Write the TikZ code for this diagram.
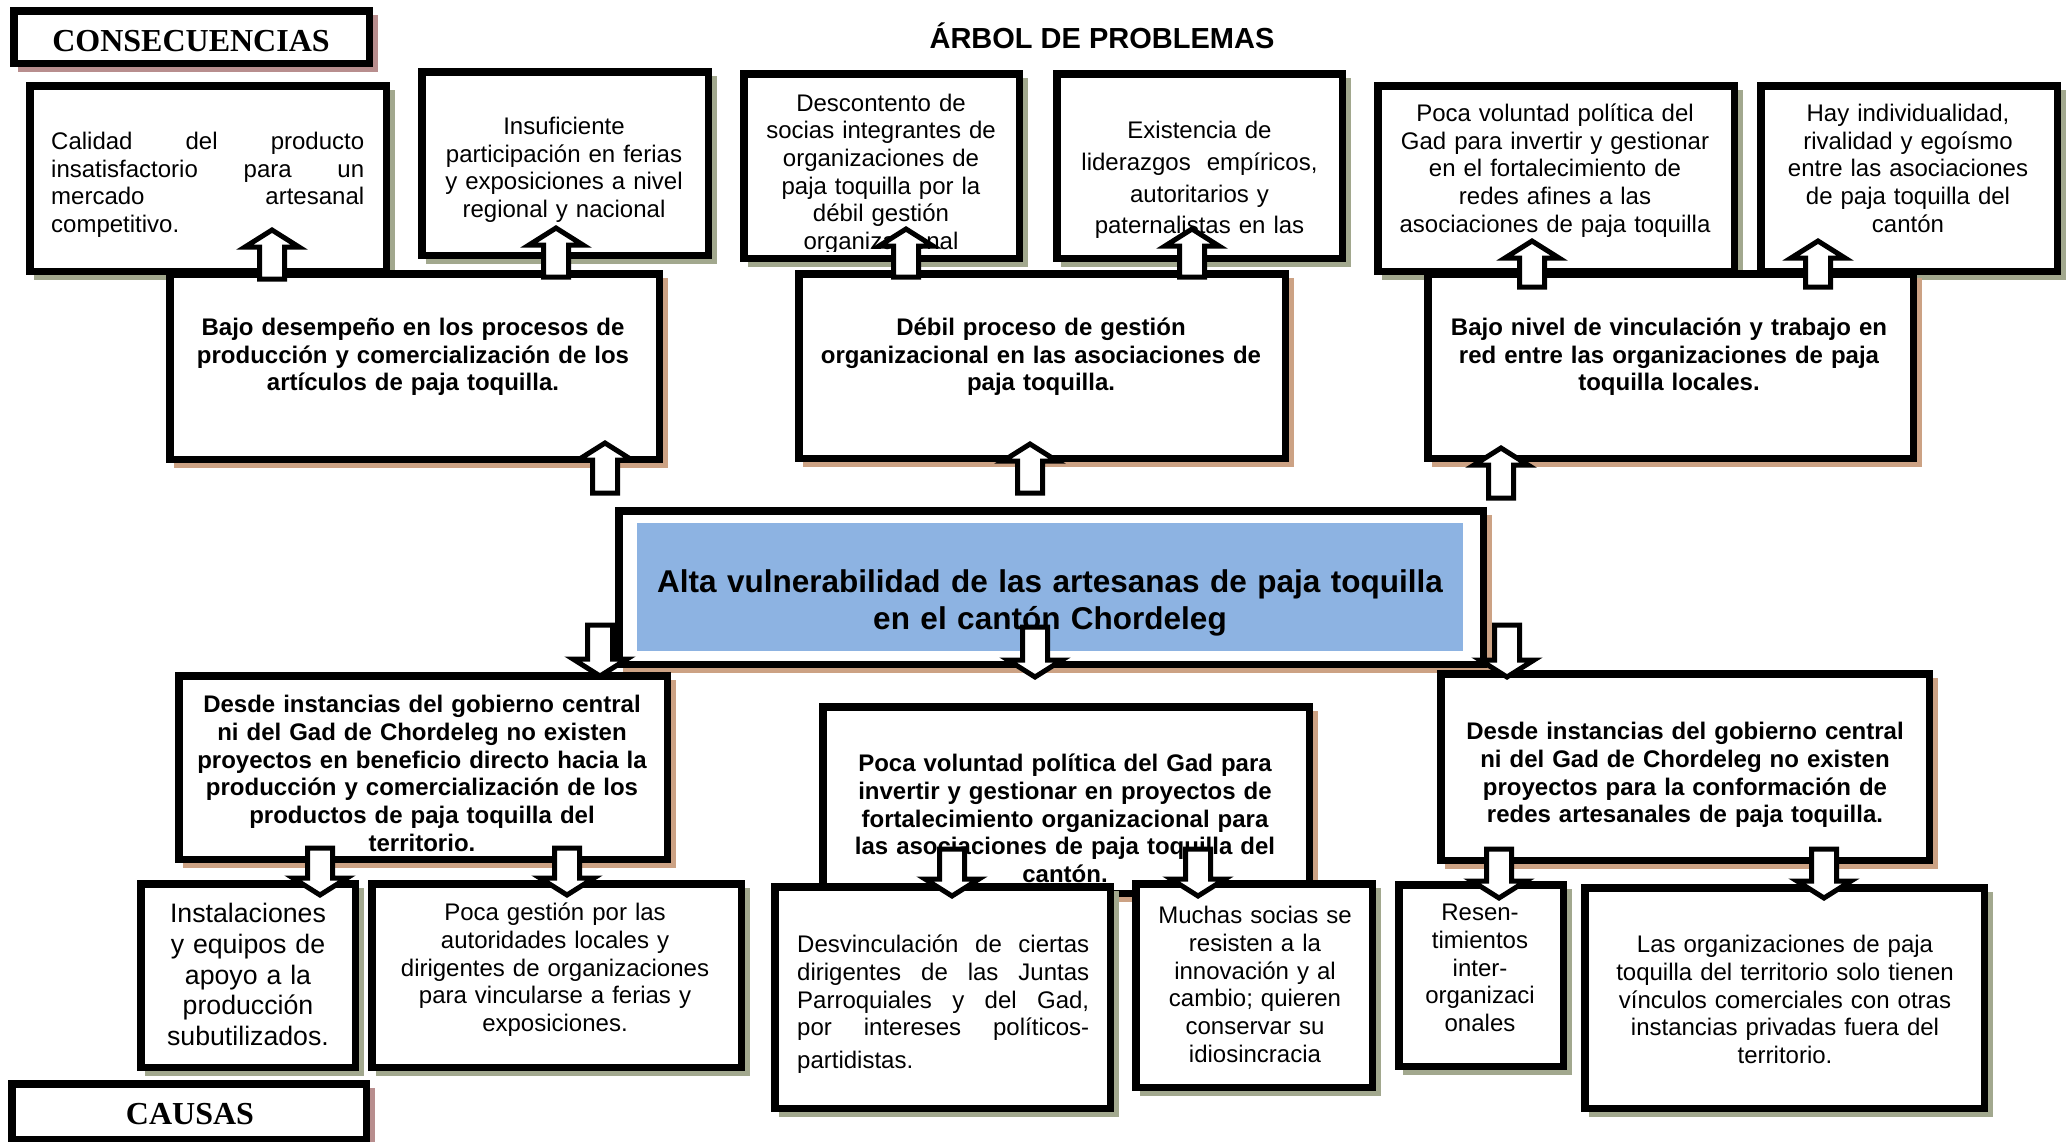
\documentclass[tikz,border=0pt]{standalone}
\usepackage{fontspec}
\setmainfont{Liberation Sans}
\newfontfamily\serifbf{Liberation Serif}
\usetikzlibrary{calc}
\definecolor{shOl}{RGB}{162,168,142}
\definecolor{shTan}{RGB}{204,162,132}
\definecolor{shRose}{RGB}{184,142,142}
\definecolor{cblue}{RGB}{141,179,226}
\tikzset{
  bx/.style={rectangle, draw=black, line width=7.5pt, fill=white, inner sep=0pt, outer sep=3.75pt},
  tx/.style={inner sep=0pt, align=center, anchor=north, text width=480pt,
     font=\fontsize{24}{27.7}\selectfont, execute at begin node=\strut},
  txb/.style={tx, font=\fontsize{24}{27.7}\selectfont\bfseries},
  barrow/.style={draw=black, fill=white, line width=5pt, line join=miter},
  lbl/.style={inner sep=0pt, anchor=base, font=\fontsize{32}{36}\selectfont\serifbf\bfseries}
}
% justified line of a given width
\newcommand\jline[2]{\leavevmode\hbox to #1pt{#2}}
% box: [shadow colour]{name}{x1}{y1}{x2}{y2}  (outer edges, y downward)
\newcommand\bx[6][shOl]{%
  \fill[#1] ({#3+8},{#4+8}) rectangle ({#5+5},{#6+5});
  \node[bx, minimum width={#5-#3-7.5}, minimum height={#6-#4-7.5}] (#2) at ({(#3+#5)/2},{(#4+#6)/2}) {};}
% block arrows: {x}{from}{tail offset}{to}{tip offset}
\newcommand\arrup[5]{%
  \draw[barrow] let \p1=(#2.north), \p2=(#4.south) in
   ({(#1-12.5)*1pt},{\y1-(#3)*1pt}) -- ({(#1-12.5)*1pt},{\y2-(#5)*1pt-17pt})
   -- ({(#1-27)*1pt},{\y2-(#5)*1pt-17pt}) -- ({#1*1pt},{\y2-(#5)*1pt})
   -- ({(#1+27)*1pt},{\y2-(#5)*1pt-17pt}) -- ({(#1+12.5)*1pt},{\y2-(#5)*1pt-17pt})
   -- ({(#1+12.5)*1pt},{\y1-(#3)*1pt}) -- cycle;}
\newcommand\arrdown[5]{%
  \draw[barrow] let \p1=(#2.south), \p2=(#4.north) in
   ({(#1-12.5)*1pt},{\y1-(#3)*1pt}) -- ({(#1-12.5)*1pt},{\y2-(#5)*1pt+17pt})
   -- ({(#1-27)*1pt},{\y2-(#5)*1pt+17pt}) -- ({#1*1pt},{\y2-(#5)*1pt})
   -- ({(#1+27)*1pt},{\y2-(#5)*1pt+17pt}) -- ({(#1+12.5)*1pt},{\y2-(#5)*1pt+17pt})
   -- ({(#1+12.5)*1pt},{\y1-(#3)*1pt}) -- cycle;}
\begin{document}
\begin{tikzpicture}[x=1pt,y=-1pt]
\useasboundingbox (0,0) rectangle (2067,1141);

% ---- consequences (top row)
\bx{calidad}{26}{82}{390}{275}
\node[tx, anchor=north west, text width=313pt, align=left] (calidad-t) at (51,130)
  {\jline{313}{Calidad\hfill del\hfill producto}\\\jline{313}{insatisfactorio\hfill para\hfill un}\\\jline{313}{mercado\hfill artesanal}\\competitivo.};
\bx{insuf}{418}{68}{712}{259}
\node[tx] (insuf-t) at (564,115) {Insuficiente\\participación en ferias\\y exposiciones a nivel\\regional y nacional};
\bx{desc}{740}{70}{1023}{262}
\begin{scope}
\clip (747.5,77.5) rectangle (1015.5,251);
\node[tx] (desc-t) at (881,91.5) {Descontento de\\socias integrantes de\\organizaciones de\\paja toquilla por la\\débil gestión\\organizacional};
\end{scope}
\bx{exist}{1053}{70}{1346}{262}
\node[tx, font=\fontsize{24}{31.6}\selectfont] (exist-t) at (1199.5,116.5) {Existencia de\\liderazgos\ \ empíricos,\\autoritarios y\\paternalistas en las};
\bx{pocaT}{1374}{82}{1738}{275}
\node[tx] (pocaT-t) at (1555,102) {Poca voluntad política del\\Gad para invertir y gestionar\\en el fortalecimiento de\\redes afines a las\\asociaciones de paja toquilla};
\bx{hay}{1757}{82}{2061}{275}
\node[tx] (hay-t) at (1908,102) {Hay individualidad,\\rivalidad y egoísmo\\entre las asociaciones\\de paja toquilla del\\cantón};

% ---- effects (second row)
\bx[shTan]{bajo}{166}{270}{663}{463}
\node[txb] (bajo-t) at (413,316) {Bajo desempeño en los procesos de\\producción y comercialización de los\\artículos de paja toquilla.};
\bx[shTan]{debil}{795}{270}{1289}{462}
\node[txb] (debil-t) at (1041,316) {Débil proceso de gestión\\organizacional en las asociaciones de\\paja toquilla.};
\bx[shTan]{nivel}{1424}{270}{1917}{462}
\node[txb] (nivel-t) at (1669,316) {Bajo nivel de vinculación y trabajo en\\red entre las organizaciones de paja\\toquilla locales.};

% ---- central problem
\bx[shTan]{cen}{615}{507}{1487}{668}
\node[fill=cblue, draw=none, inner sep=0pt, minimum width=826, minimum height=128] (cenfill) at (1050,587) {};
\node[txb, text width=860pt, font=\fontsize{31.5}{37}\selectfont\bfseries] (cen-t) at (1050,566) {Alta vulnerabilidad de las artesanas de paja toquilla\\en el cantón Chordeleg};

% ---- causes
\bx[shTan]{desdeL}{175}{672}{671}{863}
\begin{scope}
\clip (182.5,679.5) rectangle (663.5,855.5);
\node[txb] (desdeL-t) at (422,693) {Desde instancias del gobierno central\\ni del Gad de Chordeleg no existen\\proyectos en beneficio directo hacia la\\producción y comercialización de los\\productos de paja toquilla del\\territorio.};
\end{scope}
\bx[shTan]{pocaC}{819}{703}{1313}{897}
\node[txb] (pocaC-t) at (1065,752) {Poca voluntad política del Gad para\\invertir y gestionar en proyectos de\\fortalecimiento organizacional para\\las asociaciones de paja toquilla del\\cantón.};
\bx[shTan]{desdeR}{1437}{670}{1933}{864}
\node[txb] (desdeR-t) at (1685,720) {Desde instancias del gobierno central\\ni del Gad de Chordeleg no existen\\proyectos para la conformación de\\redes artesanales de paja toquilla.};

% ---- root causes (bottom row)
\bx{instal}{137}{880}{359}{1071}
\node[tx, font=\fontsize{26.7}{30.7}\selectfont] (instal-t) at (248,901) {Instalaciones\\y equipos de\\apoyo a la\\producción\\subutilizados.};
\bx{pocag}{368}{880}{745}{1071}
\node[tx] (pocag-t) at (555,901) {Poca gestión por las\\autoridades locales y\\dirigentes de organizaciones\\para vincularse a ferias y\\exposiciones.};
\bx{desv}{771}{883}{1114}{1112}
\node[tx, anchor=north west, text width=292pt, align=left] (desv-t) at (797,933)
  {\jline{292}{Desvinculación\hfill de\hfill ciertas}\\\jline{292}{dirigentes\hfill de\hfill las\hfill Juntas}\\\jline{292}{Parroquiales\hfill y\hfill del\hfill Gad,}\\\jline{292}{por\hfill intereses\hfill políticos-}\\[5pt]partidistas.};
\bx{muchas}{1132}{880}{1376}{1091}
\node[tx] (muchas-t) at (1255,904) {Muchas socias se\\resisten a la\\innovación y al\\cambio; quieren\\conservar su\\idiosincracia};
\bx{resen}{1395}{881}{1567}{1070}
\node[tx] (resen-t) at (1480,901) {Resen-\\timientos\\inter-\\organizaci\\onales};
\bx{lasorg}{1581}{884}{1988}{1112}
\node[tx] (lasorg-t) at (1785,933) {Las organizaciones de paja\\toquilla del territorio solo tienen\\vínculos comerciales con otras\\instancias privadas fuera del\\territorio.};

% ---- labels
\bx[shRose]{consec}{10}{7}{373}{67}
\node[lbl] (consec-t) at (191,51) {CONSECUENCIAS};
\bx[shRose]{causas}{8}{1080}{370}{1143}
\node[lbl] (causas-t) at (190,1124) {CAUSAS};
\node[inner sep=0pt, anchor=base, font=\fontsize{29}{33}\selectfont\bfseries] (title) at (1102,48.4) {ÁRBOL DE PROBLEMAS};

% ---- block arrows
\arrup{272}{bajo}{9}{calidad}{-45}
\arrup{556}{bajo}{7}{insuf}{-31}
\arrup{906}{debil}{7}{desc}{-33}
\arrup{1192}{debil}{7}{exist}{-33}
\arrup{1532}{nivel}{17}{pocaT}{-34}
\arrup{1818}{nivel}{17}{hay}{-34}
\arrup{605}{cen}{-14}{bajo}{-20}
\arrup{1030}{cen}{-14}{debil}{-18}
\arrup{1501}{cen}{-9}{nivel}{-14}
\arrdown{600}{cen}{-43}{desdeL}{4}
\arrdown{1035}{cen}{-41}{pocaC}{-26}
\arrdown{1507}{cen}{-43}{desdeR}{7}
\arrdown{320}{desdeL}{-15}{instal}{15}
\arrdown{567}{desdeL}{-15}{pocag}{15}
\arrdown{952}{pocaC}{-48}{desv}{13}
\arrdown{1198}{pocaC}{-48}{muchas}{16}
\arrdown{1499}{desdeR}{-15}{resen}{17}
\arrdown{1824}{desdeR}{-15}{lasorg}{14}
\end{tikzpicture}
\end{document}
